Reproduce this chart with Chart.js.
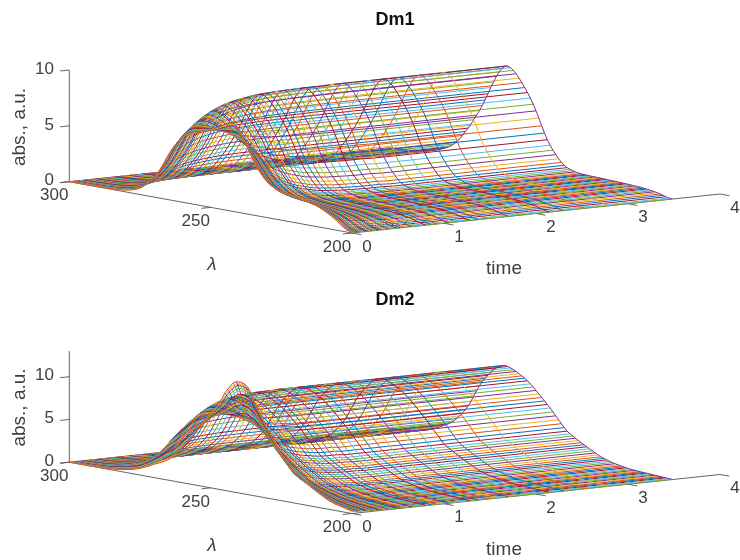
<!DOCTYPE html>
<html>
<head>
<meta charset="utf-8">
<title>Dm1 Dm2</title>
<script src="https://cdn.jsdelivr.net/npm/chart.js@4"></script>
<style>
    body { margin: 0; background: #fff; }
    canvas { display: block; }
</style>
</head>
<body>
<canvas id="chartDm1" width="740" height="280"></canvas>
<canvas id="chartDm2" width="740" height="280"></canvas>
<script>
// wavelength grid and time grid of the mesh
const lambdas = [200,201,202,203,204,205,206,207,208,209,210,211,212,213,214,215,216,217,218,219,
    220,221,222,223,224,225,226,227,228,229,230,231,232,233,234,235,236,237,238,239,
    240,241,242,243,244,245,246,247,248,249,250,251,252,253,254,255,256,257,258,259,
    260,261,262,263,264,265,266,267,268,269,270,271,272,273,274,275,276,277,278,279,
    280,281,282,283,284,285,286,287,288,289,290,291,292,293,294,295,296,297,298,299,300];
const times = [0,.01,.02,.03,.04,.05,.06,.07,.08,.09,.1,.12,.14,.16,.18,.2,.22,.24,.26,.28,.3,
    .33,.36,.39,.42,.45,.48,.52,.56,.6,.65,.7,.75,.8,.86,.92,.98,1.05,1.12,1.2,1.28,
    1.37,1.47,1.58,1.7,1.83,1.98,2.14,2.3,2.53,2.79,3.475];

// spectra read at the start and the end of the time range
const dm1Early = [.07,.12,.2,.35,.55,.75,.95,1.12,1.28,1.42,1.55,1.68,1.8,1.9,1.98,2.05,2.12,2.18,2.24,2.3,
    2.35,2.4,2.44,2.48,2.52,2.58,2.65,2.72,2.85,3,3.2,3.45,3.75,4.1,4.5,4.95,5.45,5.95,6.45,6.95,
    7.4,7.75,7.9,7.9,7.8,7.65,7.5,7.35,7.2,7.05,6.9,6.8,6.7,6.6,6.5,6.4,6.3,6.2,6.1,5.95,
    5.75,5.5,5.2,4.85,4.45,4,3.5,3,2.55,2.15,1.8,1.5,1.25,.98,.75,.58,.45,.35,.28,.22,
    .17,.13,.1,.08,.06,.05,.04,.03,.02,.02,.01,.01,.01,0,0,0,0,0,0,0,0];
const dm1Late = [.02,.05,.12,.2,.27,.33,.38,.42,.46,.49,.52,.55,.57,.58,.6,.61,.63,.64,.65,.66,
    .67,.68,.69,.7,.71,.72,.73,.74,.75,.76,.77,.78,.8,.83,.88,.94,1.02,1.12,1.28,1.5,
    1.78,2.1,2.45,2.85,3.3,3.85,4.45,5.1,5.7,6.25,6.75,7.2,7.6,8,8.35,8.7,8.95,9.15,9.25,9.2,
    8.95,8.6,8.15,7.6,7.05,6.45,5.85,5.3,4.8,4.35,3.9,3.45,3.05,2.7,2.3,1.95,1.65,1.4,1.2,1.05,
    .92,.8,.7,.6,.52,.45,.38,.32,.27,.23,.19,.16,.13,.11,.09,.07,.05,.04,.03,.01,0];
const dm2Early = [.26,.35,.44,.52,.6,.68,.76,.87,1,1.16,1.33,1.52,1.7,1.9,2.1,2.32,2.55,2.8,3.05,3.3,
    3.55,3.8,4.05,4.35,4.7,5.25,5.8,6.35,6.9,7.45,8,8.6,9.3,10,10.6,11.3,12.1,12.6,12.85,13,
    13,12.95,12.75,12.35,11.9,11.4,10.7,10.1,9.65,9.2,8.75,8.3,7.8,7.3,6.8,6.3,5.8,5.35,4.9,4.5,
    4.1,3.7,3.3,2.95,2.65,2.4,2.2,2,1.85,1.7,1.55,1.38,1.22,1.07,.92,.78,.66,.56,.47,.4,
    .34,.28,.23,.19,.15,.12,.1,.08,.06,.05,.04,.03,.02,.01,.01,0,0,0,0,0,0];
const dm2Late = [.04,.06,.08,.1,.12,.14,.16,.18,.2,.22,.24,.26,.28,.3,.33,.37,.42,.47,.53,.59,
    .66,.74,.83,.93,1.04,1.17,1.33,1.5,1.68,1.86,2.04,2.22,2.4,2.6,2.8,3,3.2,3.45,3.8,4.2,
    4.6,5,5.4,5.8,6.15,6.5,6.85,7.2,7.55,7.9,8.2,8.5,8.75,8.95,9.15,9.35,9.5,9.65,9.75,9.8,
    9.75,9.6,9.35,9.05,8.7,8.3,7.9,7.45,6.9,6.25,5.6,4.9,4.3,3.8,3.35,2.95,2.6,2.25,2,1.8,
    1.62,1.45,1.25,1.08,.93,.8,.68,.58,.49,.41,.34,.28,.23,.19,.15,.12,.09,.07,.05,.02,0];

// how far each time sample has moved from the early to the late spectrum
const dm1Progress = [0,.03,.06,.1,.13,.16,.19,.21,.24,.26,.29,.33,.37,.41,.45,.48,.52,.55,.58,.61,.63,
    .67,.7,.73,.76,.78,.8,.83,.85,.87,.89,.91,.93,.94,.95,.96,.97,.975,.98,.985,.99,
    .99,.99,1,1,1,1,1,1,1,1,1];
const dm2Progress = [0,.03,.06,.1,.14,.19,.24,.29,.33,.37,.41,.47,.52,.57,.61,.65,.68,.71,.74,.76,.78,
    .81,.84,.86,.88,.9,.91,.93,.94,.95,.96,.97,.98,.985,.99,.99,.99,1,1,1,1,
    1,1,1,1,1,1,1,1,1,1,1];

const lambdaTicks = [300, 250, 200];
const timeTicks = [0, 1, 2, 3, 4];
const absTicks = [0, 5, 10];

const lineColors = ['#0072BD', '#D95319', '#EDB120', '#7E2F8E', '#77AC30', '#4DBEEE', '#A2142F'];
const axisColor = '#555555';
const textColor = '#404040';

// view of the 3D box on the flat plot
function project(view, lambda, time, abs) {
    let d = lambda - 200;
    return {
        x: 352 + 92 * time - 2.827 * d,
        y: view.baseY - 9.75 * time - 0.513 * d - view.absScale * abs
    };
}

function axisLine(view, a, b) {
    return {
        data: [project(view, a[0], a[1], a[2]), project(view, b[0], b[1], b[2])],
        borderColor: axisColor,
        borderWidth: 0.9
    };
}

function buildDatasets(view, early, late, progress) {
    let datasets = [];
    let colorIndex = 1;

    // spectra, one per time
    times.forEach(function (t, i) {
        let points = lambdas.map(function (l, j) {
            let abs = early[j] + (late[j] - early[j]) * progress[i];
            return project(view, l, t, abs);
        });
        datasets.push({ data: points, borderColor: lineColors[colorIndex++ % 7], borderWidth: 1 });
    });

    // kinetics, one per wavelength
    lambdas.forEach(function (l, j) {
        let points = times.map(function (t, i) {
            let abs = early[j] + (late[j] - early[j]) * progress[i];
            return project(view, l, t, abs);
        });
        datasets.push({ data: points, borderColor: lineColors[colorIndex++ % 7], borderWidth: 1 });
    });

    // box axes and ticks
    datasets.push(axisLine(view, [300, 0, 0], [300, 0, view.absMax]));
    datasets.push(axisLine(view, [300, 0, 0], [200, 0, 0]));
    datasets.push(axisLine(view, [200, 0, 0], [200, 4, 0]));
    absTicks.forEach(function (v) {
        datasets.push(axisLine(view, [300, 0, v], [300, -0.1, v]));
    });
    lambdaTicks.forEach(function (v) {
        datasets.push(axisLine(view, [v, 0, 0], [v, -0.1, 0]));
    });
    timeTicks.forEach(function (v) {
        datasets.push(axisLine(view, [200, v, 0], [196.7, v, 0]));
    });
    return datasets;
}

const labelsPlugin = {
    id: 'boxLabels',
    afterDraw: function (chart, args, options) {
        let ctx = chart.ctx;
        let xs = chart.scales.x;
        let ys = chart.scales.y;
        let view = options.view;

        function put(text, x, y, font, align) {
            ctx.font = font;
            ctx.textAlign = align || 'center';
            ctx.textBaseline = 'middle';
            ctx.fillStyle = textColor;
            ctx.fillText(text, xs.getPixelForValue(x), ys.getPixelForValue(y));
        }

        ctx.save();
        const tickFont = '17px "Liberation Sans", Arial, sans-serif';
        const labelFont = '19px "Liberation Sans", Arial, sans-serif';
        absTicks.forEach(function (v) {
            let p = project(view, 300, 0, v);
            put(String(v), 54, p.y - 1, tickFont, 'right');
        });
        lambdaTicks.forEach(function (v) {
            let p = project(view, v, 0, 0);
            put(String(v), p.x - 15, p.y + 14, tickFont);
        });
        timeTicks.forEach(function (v) {
            let p = project(view, 200, v, 0);
            put(String(v), p.x + 15, p.y + 14, tickFont);
        });
        put('time', 504, view.baseY + 36, labelFont);
        put('\u03BB', 212, view.baseY + 32, 'italic 19px "Liberation Sans", Arial, sans-serif');

        ctx.font = 'bold 18px "Liberation Sans", Arial, sans-serif';
        ctx.textAlign = 'center';
        ctx.fillStyle = '#111111';
        ctx.fillText(view.title, 395, 20);

        ctx.translate(20, view.baseY - 106);
        ctx.rotate(-Math.PI / 2);
        ctx.font = labelFont;
        ctx.fillStyle = textColor;
        ctx.fillText('abs., a.u.', 0, 0);
        ctx.restore();
    }
};

function renderPanel(id, view, early, late, progress) {
    new Chart(document.getElementById(id), {
        type: 'scatter',
        data: { datasets: buildDatasets(view, early, late, progress) },
        plugins: [labelsPlugin],
        options: {
            responsive: false,
            animation: false,
            events: [],
            showLine: true,
            elements: { point: { radius: 0 }, line: { tension: 0 } },
            layout: { padding: 0 },
            scales: {
                x: { type: 'linear', min: 0, max: 740, display: false },
                y: { type: 'linear', min: 0, max: 280, reverse: true, display: false }
            },
            plugins: {
                legend: { display: false },
                tooltip: { enabled: false },
                boxLabels: { view: view }
            }
        }
    });
}

renderPanel('chartDm1', { title: 'Dm1', baseY: 233, absScale: 11.17, absMax: 10 }, dm1Early, dm1Late, dm1Progress);
renderPanel('chartDm2', { title: 'Dm2', baseY: 233.5, absScale: 8.55, absMax: 13 }, dm2Early, dm2Late, dm2Progress);
</script>
</body>
</html>
